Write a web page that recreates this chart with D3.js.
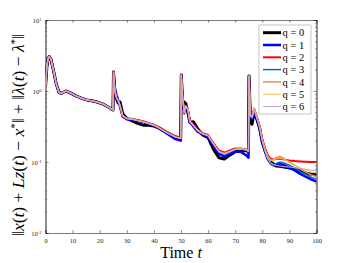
<!DOCTYPE html>
<html>
<head>
<meta charset="utf-8">
<script src="https://cdn.jsdelivr.net/npm/d3@7"></script>
<style>
  body { margin: 0; background: #fff; }
  text { font-family: "Liberation Serif", "DejaVu Serif", serif; }
</style>
</head>
<body>
<div id="plot"></div>
<script>
// time grid (shared by all series)
var tHead = [0, 0.5, 1, 1.4, 2, 3, 4, 5, 6, 7.5, 9, 11, 13, 15, 17, 19, 21, 23, 24.9];
var tTail = [25.1, 25.6, 26.2, 26.8, 27.5, 28.5, 30, 32, 34, 36, 38, 40, 42, 44, 46, 48, 49.9,
             50.1, 50.6, 51.2, 51.8, 52.5, 53.3, 54.5, 56, 58, 60, 62, 64, 66, 68, 70, 72, 74, 74.9,
             75.1, 75.6, 76.2, 77, 78, 79, 80, 81, 82, 83, 84, 85, 86.5, 88, 90, 92, 94, 96, 98, 100];

// the first stretch is the same for every q
var headVals = [1.15, 2.2, 2.9, 3.05, 2.8, 1.9, 1.25, 0.95, 0.93, 1.0, 0.95, 0.86, 0.8, 0.75, 0.73, 0.7, 0.66, 0.6, 0.54];

var q0 = [1.85, 0.95, 0.78, 0.68, 0.7, 0.48, 0.41, 0.38, 0.35, 0.33, 0.33, 0.32, 0.3, 0.27, 0.245, 0.225, 0.215,
          1.68, 0.72, 0.7, 0.66, 0.5, 0.36, 0.37, 0.3, 0.24, 0.22, 0.15, 0.115, 0.11, 0.125, 0.14, 0.145, 0.145, 0.14,
          1.62, 0.38, 0.34, 0.5, 0.4, 0.3, 0.19, 0.145, 0.118, 0.1, 0.095, 0.088, 0.087, 0.085, 0.082, 0.08, 0.075, 0.07, 0.067, 0.066];
var q1 = [1.85, 1.1, 0.87, 0.75, 0.6, 0.44, 0.4, 0.395, 0.38, 0.365, 0.345, 0.325, 0.295, 0.265, 0.235, 0.21, 0.2,
          1.68, 0.6, 0.54, 0.6, 0.52, 0.36, 0.32, 0.27, 0.245, 0.225, 0.17, 0.13, 0.12, 0.13, 0.14, 0.14, 0.125, 0.115,
          1.62, 0.44, 0.4, 0.53, 0.4, 0.3, 0.19, 0.14, 0.11, 0.097, 0.09, 0.093, 0.095, 0.09, 0.083, 0.076, 0.068, 0.062, 0.057, 0.053];
var q2 = [1.85, 0.98, 0.8, 0.72, 0.6, 0.43, 0.41, 0.405, 0.39, 0.375, 0.355, 0.335, 0.305, 0.275, 0.25, 0.23, 0.22,
          1.68, 0.78, 0.48, 0.6, 0.56, 0.38, 0.34, 0.29, 0.255, 0.24, 0.185, 0.145, 0.135, 0.145, 0.155, 0.155, 0.15, 0.145,
          1.62, 0.46, 0.43, 0.56, 0.43, 0.32, 0.21, 0.155, 0.125, 0.112, 0.108, 0.11, 0.112, 0.108, 0.105, 0.103, 0.102, 0.101, 0.1, 0.1];
var q3 = [1.85, 1.0, 0.8, 0.75, 0.62, 0.45, 0.41, 0.4, 0.385, 0.37, 0.35, 0.33, 0.3, 0.27, 0.245, 0.225, 0.215,
          1.68, 0.8, 0.5, 0.6, 0.55, 0.37, 0.33, 0.28, 0.25, 0.235, 0.18, 0.14, 0.13, 0.14, 0.15, 0.152, 0.148, 0.14,
          1.62, 0.45, 0.42, 0.55, 0.42, 0.31, 0.2, 0.14, 0.11, 0.095, 0.09, 0.095, 0.1, 0.097, 0.09, 0.082, 0.074, 0.067, 0.061, 0.057];
var q4 = [1.85, 1.0, 0.8, 0.74, 0.63, 0.45, 0.41, 0.4, 0.385, 0.37, 0.35, 0.33, 0.3, 0.27, 0.245, 0.225, 0.215,
          1.68, 0.8, 0.5, 0.62, 0.56, 0.37, 0.33, 0.28, 0.25, 0.235, 0.18, 0.14, 0.132, 0.142, 0.152, 0.154, 0.15, 0.143,
          1.62, 0.46, 0.43, 0.57, 0.43, 0.32, 0.21, 0.15, 0.12, 0.108, 0.108, 0.115, 0.12, 0.112, 0.1, 0.09, 0.08, 0.072, 0.066, 0.062];
var q5 = [1.85, 1.0, 0.8, 0.74, 0.62, 0.45, 0.41, 0.4, 0.385, 0.37, 0.35, 0.33, 0.3, 0.27, 0.245, 0.225, 0.215,
          1.68, 0.8, 0.5, 0.61, 0.55, 0.37, 0.33, 0.28, 0.25, 0.235, 0.18, 0.14, 0.131, 0.141, 0.151, 0.153, 0.149, 0.142,
          1.62, 0.45, 0.43, 0.56, 0.42, 0.32, 0.2, 0.15, 0.118, 0.106, 0.104, 0.11, 0.115, 0.108, 0.098, 0.09, 0.083, 0.077, 0.073, 0.07];
var q6 = [1.85, 1.0, 0.8, 0.74, 0.62, 0.45, 0.41, 0.4, 0.385, 0.37, 0.35, 0.33, 0.3, 0.27, 0.245, 0.225, 0.215,
          1.68, 0.8, 0.5, 0.6, 0.55, 0.37, 0.33, 0.28, 0.25, 0.235, 0.18, 0.14, 0.13, 0.14, 0.15, 0.152, 0.148, 0.141,
          1.62, 0.45, 0.42, 0.55, 0.42, 0.31, 0.2, 0.145, 0.112, 0.098, 0.092, 0.09, 0.088, 0.086, 0.085, 0.083, 0.081, 0.079, 0.077, 0.075];

var labels = ["q = 0", "q = 1", "q = 2", "q = 3", "q = 4", "q = 5", "q = 6"];
var colors = ["#000000", "#0000ff", "#ff0000", "#0072bd", "#ec8a62", "#f7c245", "#c9a3dc"];
var widths = [3, 2.5, 2, 1.5, 1.5, 1.1, 1.1];
var xTicks = [0, 10, 20, 30, 40, 50, 60, 70, 80, 90, 100];
var yTicks = [0.01, 0.1, 1, 10];
var yExp = ["-2", "-1", "0", "1"];

var allQ = [q0, q1, q2, q3, q4, q5, q6];
var times = tHead.concat(tTail);

var margin = {top: 20, right: 33.5, bottom: 30, left: 45.5},
    width = 350 - margin.left - margin.right,
    height = 263 - margin.top - margin.bottom;

var svg = d3.select("#plot")
  .append("svg")
    .attr("width", 350)
    .attr("height", 263)
  .append("g")
    .attr("transform", "translate(" + margin.left + "," + margin.top + ")");

var x = d3.scaleLinear().domain([0, 100]).range([0, width]);
var y = d3.scaleLog().domain([0.01, 10]).range([height, 0]);

svg.append("rect")
  .attr("width", width).attr("height", height)
  .attr("fill", "#fff");

svg.append("clipPath").attr("id", "clip")
  .append("rect").attr("width", width).attr("height", height);

// minor ticks for log axis
var minor = [];
[0.01, 0.1, 1].forEach(function(d) {
  for (var k = 2; k <= 9; k++) minor.push(d * k);
});

var axisCol = "#262626";
function styleAxis(g) {
  g.select(".domain").attr("stroke", axisCol).attr("stroke-width", 0.6);
  g.selectAll(".tick line").attr("stroke", axisCol).attr("stroke-width", 0.5);
  g.selectAll(".tick text").attr("fill", axisCol)
    .style("font-family", "'Liberation Serif', serif").style("font-size", "6.5px");
}

// bottom + top
svg.append("g").attr("transform", "translate(0," + height + ")")
  .call(d3.axisBottom(x).tickValues(xTicks).tickSize(-3).tickPadding(5))
  .call(styleAxis);
svg.append("g")
  .call(d3.axisTop(x).tickValues(xTicks).tickSize(-3).tickFormat(""))
  .call(styleAxis);

// left + right
var yl = svg.append("g")
  .call(d3.axisLeft(y).tickValues(yTicks).tickSize(-3).tickPadding(4).tickFormat(""))
  .call(styleAxis);
yl.selectAll(".tick").append("text")
  .attr("x", -4).attr("dy", "0.32em")
  .attr("text-anchor", "end")
  .attr("fill", axisCol)
  .style("font-size", "6.5px")
  .each(function(d, i) {
    var t = d3.select(this);
    t.append("tspan").text("10");
    t.append("tspan").attr("dy", "-0.45em").style("font-size", "4.5px").text(yExp[i]);
  });
svg.append("g")
  .call(d3.axisLeft(y).tickValues(minor).tickSize(-1.5).tickFormat(""))
  .call(styleAxis);
svg.append("g").attr("transform", "translate(" + width + ",0)")
  .call(d3.axisRight(y).tickValues(yTicks).tickSize(-3).tickFormat(""))
  .call(styleAxis);
svg.append("g").attr("transform", "translate(" + width + ",0)")
  .call(d3.axisRight(y).tickValues(minor).tickSize(-1.5).tickFormat(""))
  .call(styleAxis);

var line = d3.line()
  .x(function(d) { return x(d[0]) })
  .y(function(d) { return y(d[1]) });

allQ.forEach(function(tail, i) {
  var vals = headVals.concat(tail);
  var pts = times.map(function(t, j) { return [t, vals[j]]; });
  svg.append("path")
    .datum(pts)
    .attr("clip-path", "url(#clip)")
    .attr("fill", "none")
    .attr("stroke", colors[i])
    .attr("stroke-width", widths[i])
    .attr("stroke-linejoin", "round")
    .attr("d", line);
});

// legend
var leg = svg.append("g").attr("transform", "translate(" + (259 - margin.left) + "," + (25 - margin.top) + ")");
leg.append("rect")
  .attr("width", 52).attr("height", 89)
  .attr("fill", "#fff").attr("stroke", "#a0a0a0").attr("stroke-width", 0.6);
labels.forEach(function(lab, i) {
  var yy = 7.7 + i * 12.3;
  leg.append("line")
    .attr("x1", 4).attr("x2", 22).attr("y1", yy).attr("y2", yy)
    .attr("stroke", colors[i]).attr("stroke-width", widths[i]);
  leg.append("text")
    .attr("x", 23.5).attr("y", yy).attr("dy", "0.35em")
    .style("font-size", "10.5px")
    .text(lab);
});

// axis labels
svg.append("text")
  .attr("x", width / 2).attr("y", height + 25)
  .attr("text-anchor", "middle")
  .style("font-size", "16px")
  .html("Time <tspan font-style='italic'>t</tspan>");

svg.append("text")
  .attr("transform", "translate(" + (24 - margin.left) + "," + (135 - margin.top) + ") rotate(-90)")
  .attr("text-anchor", "middle")
  .style("font-size", "17.5px")
  .html("‖<tspan font-style='italic'>x</tspan>(<tspan font-style='italic'>t</tspan>) + <tspan font-style='italic'>Lz</tspan>(<tspan font-style='italic'>t</tspan>) − <tspan font-style='italic'>x</tspan><tspan dy='-6' font-size='11px'>*</tspan><tspan dy='6'>‖ + ‖</tspan><tspan font-style='italic'>λ</tspan>(<tspan font-style='italic'>t</tspan>) − <tspan font-style='italic'>λ</tspan><tspan dy='-6' font-size='11px'>*</tspan><tspan dy='6'>‖</tspan>");
</script>
</body>
</html>
